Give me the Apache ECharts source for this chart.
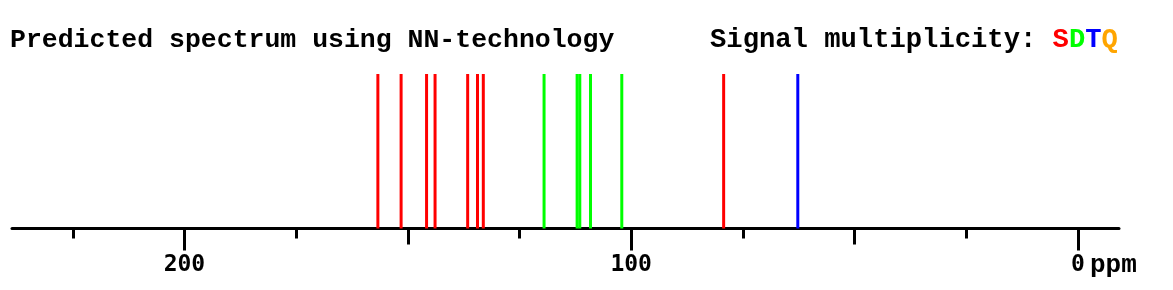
<!DOCTYPE html>
<html>
<head>
<meta charset="utf-8">
<script src="https://cdn.jsdelivr.net/npm/echarts@6/dist/echarts.min.js"></script>
<style>
html,body{margin:0;padding:0;background:#fff;}
#chart{width:1173px;height:290px;}
</style>
</head>
<body>
<div id="chart"></div>
<script>
// Predicted 13C shifts (ppm) by multiplicity
var singlets = [156.7, 151.5, 145.8, 143.9, 136.6, 134.4, 133.1, 79.3];
var doublets = [119.5, 112.1, 111.5, 109.1, 102.1];
var triplets = [62.7];
var quartets = [];
var majorTicks = [200, 100, 0];
var midTicks = [150, 50];
var minorTicks = [225, 175, 125, 75, 25];
var titleText = 'Predicted spectrum using NN-technology';
var legendText = 'Signal multiplicity: ';
var unitText = 'ppm';

var chart = echarts.init(document.getElementById('chart'), null, {renderer: 'canvas'});
var FONT = '"Liberation Mono", "Courier New", monospace';
var LABELFONT = '"DejaVu Sans Mono", monospace';

function toData(arr) { return arr.map(function (v) { return [v, 1]; }); }
function baseAxis(extra) {
  var ax = {
    type: 'value', inverse: true, min: -9.2, max: 238.6, position: 'bottom',
    splitLine: {show: false},
    axisLine: {show: false},
    axisLabel: {show: false},
    axisTick: {show: false}
  };
  for (var k in extra) ax[k] = extra[k];
  return ax;
}

function mkSeries(name, arr, color) {
  return {
    name: name, type: 'bar', xAxisIndex: 0, yAxisIndex: 0,
    data: toData(arr), barWidth: 3, barGap: '-100%',
    itemStyle: {color: color}, silent: true, animation: false
  };
}

var LS = 27.2;
var legendRich = {
  k: {fontFamily: FONT, fontWeight: 'bold', fontSize: LS, color: '#000'},
  s: {fontFamily: FONT, fontWeight: 'bold', fontSize: LS, color: '#ff0000'},
  d: {fontFamily: FONT, fontWeight: 'bold', fontSize: LS, color: '#00ff00'},
  t: {fontFamily: FONT, fontWeight: 'bold', fontSize: LS, color: '#0000ff'},
  q: {fontFamily: FONT, fontWeight: 'bold', fontSize: LS, color: '#ffa500'}
};

chart.setOption({
  animation: false,
  title: [
    {text: titleText, left: 10, top: 26.5, padding: 0,
     textStyle: {fontFamily: FONT, fontWeight: 'bold', fontSize: 26.5, color: '#000'}},
    {text: '{k|' + legendText + '}{s|S}{d|D}{t|T}{q|Q}', left: 710, top: 26.5, padding: 0,
     textStyle: {fontFamily: FONT, fontWeight: 'bold', fontSize: LS, rich: legendRich}}
  ],
  grid: {left: 12, right: 54, top: 74, bottom: 61.5},
  xAxis: [
    baseAxis({
      axisLine: {show: true, onZero: false, lineStyle: {color: '#000', width: 3}},
      axisTick: {show: true, customValues: majorTicks, length: 22, lineStyle: {color: '#000', width: 3}},
      axisLabel: {show: true, customValues: majorTicks, margin: 25,
        fontFamily: LABELFONT, fontWeight: 'bold', fontSize: 23, color: '#000',
        formatter: function (v) {
          return v === 0 ? '{pad|}{z|0}{p|' + unitText + '}' : String(v);
        },
        rich: {
          pad: {width: 52, lineHeight: 23},
          z: {fontFamily: LABELFONT, fontWeight: 'bold', fontSize: 23, color: '#000', lineHeight: 23},
          p: {fontFamily: FONT, fontWeight: 'bold', fontSize: 26, color: '#000', width: 52, align: 'right', lineHeight: 23}
        }}
    }),
    baseAxis({
      axisTick: {show: true, customValues: midTicks, length: 16, lineStyle: {color: '#000', width: 3}}
    }),
    baseAxis({
      axisTick: {show: true, customValues: minorTicks, length: 10, lineStyle: {color: '#000', width: 3}}
    })
  ],
  yAxis: {type: 'value', min: 0, max: 1, show: false},
  series: [
    mkSeries('S', singlets, '#ff0000'),
    mkSeries('D', doublets, '#00ff00'),
    mkSeries('T', triplets, '#0000ff'),
    mkSeries('Q', quartets, '#ffa500')
  ]
});
</script>
</body>
</html>
